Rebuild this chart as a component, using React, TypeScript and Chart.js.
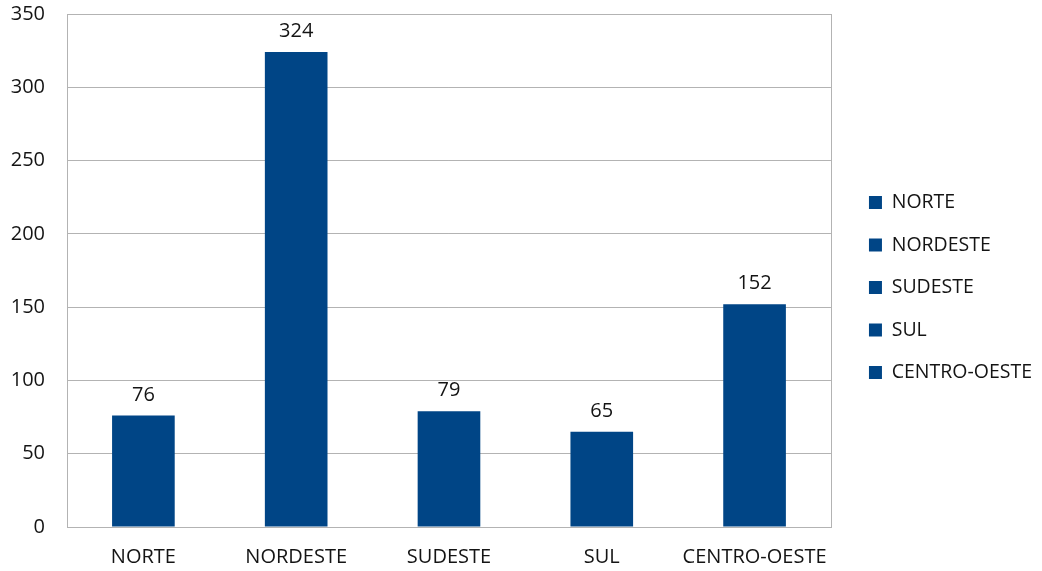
import React, { useEffect, useRef } from "react";
import { Chart, registerables } from "chart.js";

Chart.register(...registerables);

const categories = ["NORTE", "NORDESTE", "SUDESTE", "SUL", "CENTRO-OESTE"];
const values = [76, 324, 79, 65, 152];
const yTicks = [0, 50, 100, 150, 200, 250, 300, 350];

const BAR_COLOR = "#004586";
const TEXT_COLOR = "#141414";
const FONT = "'Open Sans', sans-serif";

const frameAndLabels = {
  id: "frameAndLabels",
  afterDatasetsDraw(chart: any) {
    const { ctx, chartArea } = chart;
    ctx.save();
    ctx.strokeStyle = "#b3b3b3";
    ctx.lineWidth = 1;
    ctx.strokeRect(
      Math.round(chartArea.left) + 0.5,
      Math.round(chartArea.top) + 0.5,
      Math.round(chartArea.right - chartArea.left),
      Math.round(chartArea.bottom - chartArea.top)
    );
    const meta = chart.getDatasetMeta(0);
    ctx.fillStyle = TEXT_COLOR;
    ctx.font = `20px ${FONT}`;
    ctx.textAlign = "center";
    ctx.textBaseline = "alphabetic";
    meta.data.forEach((bar: any, i: number) => {
      ctx.fillText(String(values[i]), bar.x, bar.y - 15);
    });
    ctx.restore();
  },
};

const setPad = (axis: any, top = 0) => {
  axis.paddingTop = top;
  axis.paddingBottom = 0;
  axis.paddingLeft = 0;
  axis.paddingRight = 0;
};

export default function App() {
  const ref = useRef<HTMLCanvasElement | null>(null);
  useEffect(() => {
    document.body.style.margin = "0";
    const chart = new Chart(ref.current as HTMLCanvasElement, {
      type: "bar",
      data: {
        labels: categories,
        datasets: [
          {
            label: "Valores",
            data: values,
            backgroundColor: BAR_COLOR,
            borderWidth: 0,
            barPercentage: 0.82,
            categoryPercentage: 0.5,
          },
        ],
      },
      options: {
        animation: false,
        responsive: false,
        maintainAspectRatio: false,
        layout: { autoPadding: false, padding: { left: 0, right: 0, top: 4, bottom: 0 } },
        plugins: {
          tooltip: { enabled: false },
          legend: {
            position: "right",
            maxWidth: 260,
            labels: {
              boxWidth: 13,
              boxHeight: 13,
              padding: 23,
              color: TEXT_COLOR,
              font: { family: FONT, size: 19.5 },
              generateLabels: () =>
                categories.map((c) => ({
                  text: c,
                  fillStyle: BAR_COLOR,
                  strokeStyle: BAR_COLOR,
                  lineWidth: 0,
                  hidden: false,
                  fontColor: TEXT_COLOR,
                })),
            },
          },
        },
        scales: {
          x: {
            grid: { display: false, drawTicks: false },
            border: { display: false },
            ticks: {
              color: TEXT_COLOR,
              font: { family: FONT, size: 20 },
              padding: 18,
            },
            afterFit: (axis: any) => {
              axis.height = 44;
              setPad(axis);
            },
          },
          y: {
            min: 0,
            max: 350,
            afterBuildTicks: (axis: any) => {
              axis.ticks = yTicks.map((v) => ({ value: v }));
            },
            grid: { color: "#b3b3b3", drawTicks: false },
            border: { display: false },
            ticks: {
              color: TEXT_COLOR,
              font: { family: FONT, size: 20 },
              padding: 22,
            },
            afterFit: (axis: any) => {
              axis.width = 67;
              setPad(axis, 14);
            },
          },
          yr: {
            position: "right",
            display: true,
            grid: { display: false, drawTicks: false },
            border: { display: false },
            ticks: { display: false },
            afterFit: (axis: any) => {
              axis.width = 15;
              setPad(axis);
            },
          },
        },
      },
      plugins: [frameAndLabels],
    });
    return () => chart.destroy();
  }, []);
  return (
    <div style={{ position: "fixed", left: 0, top: 0, width: 1042, height: 571 }}>
      <canvas ref={ref} width={1042} height={571} />
    </div>
  );
}
